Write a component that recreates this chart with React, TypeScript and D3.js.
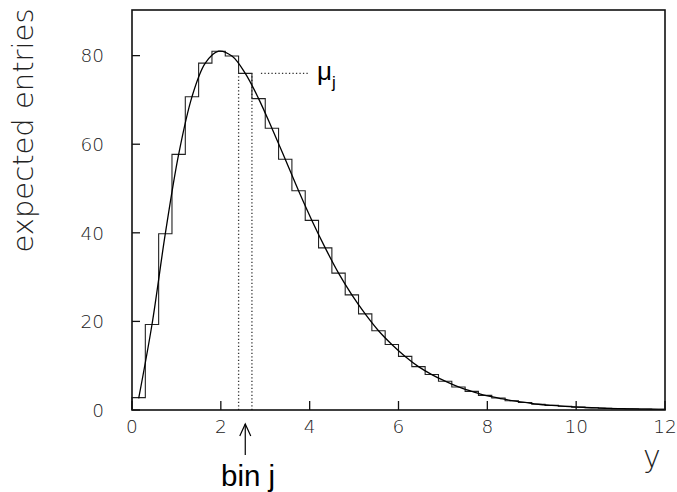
import React from "react";
import * as d3 from "d3";

// Histogram: 40 bins of width 0.3 between 0 and 12 (expected entries per bin)
const binEdgesStart = 0;
const binWidth = 0.3;
const binValues = [
  2.8, 19.3, 39.8, 57.7, 70.7, 78.3, 81.0, 79.9, 76.0, 70.3,
  63.6, 56.6, 49.5, 42.8, 36.6, 30.9, 26.0, 21.7, 17.9, 14.8,
  12.1, 9.8, 8.0, 6.5, 5.2, 4.2, 3.3, 2.7, 2.1, 1.7,
  1.3, 1.05, 0.83, 0.65, 0.51, 0.4, 0.32, 0.25, 0.19, 0.15,
];

// smooth curve samples (x, value)
const curveX = [
  0.15, 0.45, 0.75, 1.05, 1.35, 1.65, 1.95, 2.25, 2.55, 2.85,
  3.15, 3.45, 3.75, 4.05, 4.35, 4.65, 4.95, 5.25, 5.55, 5.85,
  6.15, 6.45, 6.75, 7.05, 7.35, 7.65, 7.95, 8.25, 8.55, 8.85,
  9.15, 9.45, 9.75, 10.05, 10.35, 10.65, 10.95, 11.25, 11.55, 11.85, 12.0,
];
const curveY = [
  2.6, 19.3, 39.8, 57.7, 70.7, 78.3, 81.0, 79.9, 76.0, 70.3,
  63.6, 56.6, 49.5, 42.8, 36.6, 30.9, 26.0, 21.7, 17.9, 14.8,
  12.1, 9.8, 8.0, 6.5, 5.2, 4.2, 3.3, 2.7, 2.1, 1.7,
  1.3, 1.05, 0.83, 0.65, 0.51, 0.4, 0.32, 0.25, 0.19, 0.15, 0.13,
];

const xTicks = [0, 2, 4, 6, 8, 10, 12];
const yTicks = [0, 20, 40, 60, 80];
const highlightBin = 8; // bin j

const W = 677;
const H = 492;
const M = { left: 132, right: 665, top: 10, bottom: 410 };
const thinFont = "'DejaVu Sans', 'Liberation Sans', sans-serif";
const sansFont = "'Liberation Sans', Arial, sans-serif";

export default function App() {
  const x = d3.scaleLinear().domain([0, 12]).range([M.left, M.right]);
  const y = d3.scaleLinear().domain([0, 90.3]).range([M.bottom, M.top]);

  // histogram outline path
  let hist = `M${x(binEdgesStart)},${y(0)}`;
  binValues.forEach((v, i) => {
    const x1 = binEdgesStart + (i + 1) * binWidth;
    hist += `V${y(v)}H${x(x1)}`;
  });
  hist += `V${y(0)}`;

  const curvePts = curveX.map((cx, i) => [cx, curveY[i]] as [number, number]);
  const line = d3
    .line<[number, number]>()
    .x((d) => x(d[0]))
    .y((d) => y(d[1]))
    .curve(d3.curveCatmullRom.alpha(0.5));

  const jLo = binEdgesStart + highlightBin * binWidth;
  const jHi = jLo + binWidth;
  const jVal = binValues[highlightBin];
  const jMid = (jLo + jHi) / 2;

  return (
    <svg width={W} height={H} style={{ display: "block", position: "absolute", left: 0, top: 0 }}>
      <rect x={0} y={0} width={W} height={H} fill="#fff" />
      {/* dotted markers for bin j */}
      <g stroke="#333" strokeWidth={1.3} strokeDasharray="1.3,2.2" fill="none">
        <line x1={x(jLo)} x2={x(jLo)} y1={y(0)} y2={y(jVal)} />
        <line x1={x(jHi)} x2={x(jHi)} y1={y(0)} y2={y(jVal)} />
        <line x1={x(jHi) + 9} x2={x(jHi) + 58} y1={y(jVal)} y2={y(jVal)} />
      </g>
      {/* histogram */}
      <path d={hist} fill="none" stroke="#222" strokeWidth={1.1} />
      {/* curve */}
      <path d={line(curvePts) || ""} fill="none" stroke="#000" strokeWidth={1.3} />
      {/* frame */}
      <rect
        x={M.left}
        y={M.top}
        width={M.right - M.left}
        height={M.bottom - M.top}
        fill="none"
        stroke="#111"
        strokeWidth={1.6}
      />
      {/* ticks */}
      <g stroke="#111" strokeWidth={1.3}>
        {xTicks.map((t) => (
          <line key={"xt" + t} x1={x(t)} x2={x(t)} y1={y(0)} y2={y(0) - 9} />
        ))}
        {yTicks.map((t) => (
          <line key={"yt" + t} x1={M.left} x2={M.left + 8} y1={y(t)} y2={y(t)} />
        ))}
      </g>
      <g fontFamily={thinFont} fontSize={18.5} fill="#222" fontWeight={200}>
        {xTicks.map((t) => (
          <text key={"xl" + t} x={x(t)} y={433} textAnchor="middle">
            {t}
          </text>
        ))}
        {yTicks.map((t) => (
          <text key={"yl" + t} x={104} y={y(t) + 6.8} textAnchor="end">
            {t}
          </text>
        ))}
      </g>
      {/* axis titles */}
      <text
        transform={`translate(33,130.5) rotate(-90)`}
        textAnchor="middle"
        fontFamily={thinFont}
        fontWeight={200}
        fontSize={29}
        fill="#222"
      >
        expected entries
      </text>
      <text x={652} y={467} textAnchor="middle" fontFamily={thinFont} fontWeight={200} fontSize={30} fill="#222">
        y
      </text>
      {/* mu_j label */}
      <text x={317} y={80} fontFamily={sansFont} fontSize={26} fill="#000">
        μ
        <tspan fontSize={17} dy={8}>
          j
        </tspan>
      </text>
      {/* bin j arrow */}
      <g stroke="#000" strokeWidth={1.2} fill="none">
        <line x1={x(jMid)} x2={x(jMid)} y1={455} y2={424} />
        <polyline points={`${x(jMid) - 5.5},${436} ${x(jMid)},${424} ${x(jMid) + 5.5},${436}`} />
      </g>
      <text x={221} y={486} fontFamily={sansFont} fontSize={29.5} fill="#000">
        bin j
      </text>
    </svg>
  );
}
